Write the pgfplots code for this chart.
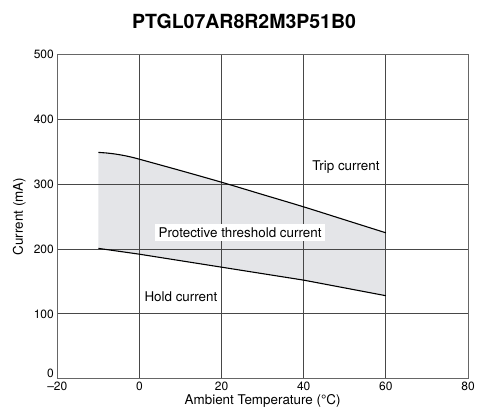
\documentclass[border=0pt]{standalone}
\usepackage{pgfplots}
\pgfplotsset{compat=1.18}
\usepgfplotslibrary{fillbetween}
\usepackage{fontspec}
\setmainfont{TeX Gyre Heros}
\definecolor{fillgray}{RGB}{228,229,232}
\begin{document}
\begin{tikzpicture}
\begin{axis}[
  at={(57.3pt,37.3pt)}, anchor=south west,
  scale only axis, width=410.7pt, height=324.2pt,
  xmin=-20, xmax=80, ymin=0, ymax=500,
  xtick={-20,0,20,40,60,80},
  xticklabels={\textendash20,0,20,40,60,80},
  ytick={100,200,300,400,500},
  extra y ticks={0},
  extra y tick style={grid=none, yticklabel style={yshift=5pt}},
  grid=major,
  major grid style={draw=black!72, line width=0.8pt},
  axis line style={draw=black!60, line width=1pt},
  tick style={draw=none},
  ticklabel style={font=\fontsize{12}{14}\selectfont},
  /pgf/number format/assume math mode=true,
  xlabel={Ambient Temperature (\textdegree C)},
  ylabel={Current (mA)},
  label style={font=\fontsize{13.4}{15}\selectfont},
  xlabel style={at={([yshift=-22pt]axis description cs:0.5,0)}, anchor=center},
  ylabel style={at={([xshift=-38pt]axis description cs:0,0.5)}, anchor=center},
  fill between/on layer=axis background,
  clip=false,
]
\addplot[name path=trip, black, line width=1.1pt, smooth] coordinates {
  (-10,349) (-8,348.1) (-6,346.6) (-4,344.5) (-2,341.8) (0,338.5) (10,321) (20,303) (30,284) (40,265) (50,245) (60,225)};
\addplot[name path=hold, black, line width=1.1pt] coordinates {
  (-10,201) (0,192) (20,172) (40,152) (60,128)};
\addplot[fill=fillgray, draw=none] fill between[of=trip and hold];
\node[fill=white, inner sep=3.5pt, font=\fontsize{13.4}{15}\selectfont] at (axis cs:24.5,225.5) {Protective threshold current};
\node[font=\fontsize{13.4}{15}\selectfont] at (axis cs:50.3,326.5) {Trip current};
\node[font=\fontsize{13.4}{15}\selectfont] at (axis cs:10.1,126) {Hold current};
\end{axis}
\node[font=\bfseries\fontsize{19.5}{22}\selectfont] at (244pt,395pt) {PTGL07AR8R2M3P51B0};
\path (0pt,0pt) rectangle (483pt,416pt);
\end{tikzpicture}
\end{document}
